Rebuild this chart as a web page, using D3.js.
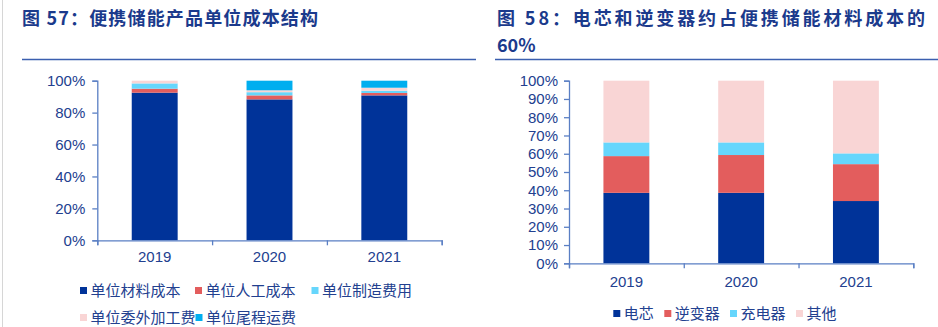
<!DOCTYPE html>
<html>
<head>
<meta charset="utf-8">
<script src="https://cdn.jsdelivr.net/npm/d3@7/dist/d3.min.js"></script>
<style>
  body { margin: 0; background: #fff; }
  text { font-family: "Liberation Sans", Arial, "Noto Sans CJK SC", sans-serif; }
  .cjk { font-family: "Noto Sans CJK SC", sans-serif; }
</style>
</head>
<body>
<svg id="mainsvg" width="938" height="327"></svg>
<script>
// data
var years = ["2019", "2020", "2021"];

// 图57 单位成本结构 (%)
var leftKeys = ["单位材料成本", "单位人工成本", "单位制造费用", "单位委外加工费", "单位尾程运费"];
var material = [92.5, 88.3, 90.8];
var labor = [2.5, 2.5, 1.5];
var manufacture = [3.3, 2.0, 1.4];
var outsourcing = [1.7, 1.2, 1.9];
var shipping = [0, 6.0, 4.4];
var leftTicks = [0, 20, 40, 60, 80, 100];

// 图58 材料成本构成 (%)
var rightKeys = ["电芯", "逆变器", "充电器", "其他"];
var cell = [38.6, 38.6, 34.1];
var inverter = [20.1, 20.7, 20.2];
var charger = [7.5, 6.9, 5.9];
var other = [33.8, 33.8, 39.8];
var rightTicks = [0, 10, 20, 30, 40, 50, 60, 70, 80, 90, 100];

var leftColors = ["#003399", "#e35d5d", "#66d6fc", "#f9d5d5", "#00aeef"];
var rightColors = ["#003399", "#e35d5d", "#66d6fc", "#f9d5d5"];

var axisColor = "#5a7fc4";
var textColor = "#22408f";
var titleColor = "#1b3a8c";

var svg = d3.select("#mainsvg");

// panel frame bits
svg.append("line")
  .attr("x1", 2.5).attr("x2", 2.5).attr("y1", 0).attr("y2", 327)
  .attr("stroke", "#d6d6d6").attr("stroke-width", 1);
svg.append("line")
  .attr("x1", 22).attr("x2", 476).attr("y1", 59.5).attr("y2", 59.5)
  .attr("stroke", "#3b5faf").attr("stroke-width", 1.5);
svg.append("line")
  .attr("x1", 495).attr("x2", 938).attr("y1", 59.5).attr("y2", 59.5)
  .attr("stroke", "#3b5faf").attr("stroke-width", 1.5);

// titles
svg.append("text").attr("class", "cjk")
  .attr("x", 22).attr("y", 24.5)
  .attr("font-size", 18).attr("font-weight", "bold").attr("fill", titleColor)
  .attr("textLength", 296).attr("lengthAdjust", "spacing")
  .text("图 57：便携储能产品单位成本结构");
svg.append("text").attr("class", "cjk")
  .attr("x", 497).attr("y", 24.5)
  .attr("font-size", 18).attr("font-weight", "bold").attr("fill", titleColor)
  .attr("textLength", 428).attr("lengthAdjust", "spacing")
  .text("图 58：电芯和逆变器约占便携储能材料成本的");
svg.append("text").attr("class", "cjk")
  .attr("x", 497).attr("y", 51.5)
  .attr("font-size", 18).attr("font-weight", "bold").attr("fill", titleColor)
  .text("60%");

/**
 * Draw one stacked column chart with its axes and legend
 * @param {Object} opt keys, series, colors, ticks and placement
 */
function drawStack(opt) {
  var g = svg.append("g");
  var rows = years.map(function (y, i) {
    var r = { year: y };
    opt.keys.forEach(function (k, j) { r[k] = opt.series[j][i]; });
    return r;
  });
  var stacked = d3.stack().keys(opt.keys)(rows);

  var x = d3.scaleBand().domain(years).range([opt.x0, opt.x1])
    .paddingInner(0.6).paddingOuter(0.3);
  var y = d3.scaleLinear().domain([0, 100]).range([opt.y0, opt.y1]);

  g.selectAll("g.layer")
    .data(stacked)
    .enter()
    .append("g")
    .attr("class", "layer")
    .attr("fill", function (d, i) { return opt.colors[i]; })
    .selectAll("rect")
    .data(function (d) { return d; })
    .enter()
    .append("rect")
    .attr("x", function (d) { return x(d.data.year); })
    .attr("width", x.bandwidth())
    .attr("y", function (d) { return y(d[1]); })
    .attr("height", function (d) { return Math.max(0, y(d[0]) - y(d[1])); });

  // y axis
  var yAxis = g.append("g")
    .attr("transform", "translate(" + opt.x0 + ",0)")
    .call(d3.axisLeft(y).tickValues(opt.ticks).tickSize(5).tickPadding(opt.tickPad)
      .tickFormat(function (d) { return d + "%"; }));
  yAxis.select(".domain").attr("stroke", axisColor).attr("stroke-width", 1.3);
  yAxis.selectAll(".tick line").attr("stroke", axisColor).attr("stroke-width", 1.3);
  yAxis.selectAll(".tick text")
    .attr("fill", textColor).attr("font-size", opt.fontSize)
    .style("font-family", "'Liberation Sans', Arial, sans-serif");

  // x axis: boundary ticks, labels centred on bars
  var xb = d3.scaleLinear().domain([0, years.length]).range([opt.x0, opt.x1]);
  var xAxis = g.append("g")
    .attr("transform", "translate(0," + opt.y0 + ")")
    .call(d3.axisBottom(xb).tickValues(d3.range(years.length + 1))
      .tickSize(5).tickSizeOuter(5).tickFormat(""));
  xAxis.select(".domain").attr("stroke", axisColor).attr("stroke-width", 1.3);
  xAxis.selectAll(".tick line").attr("stroke", axisColor).attr("stroke-width", 1.3);

  g.selectAll("text.xlab")
    .data(years)
    .enter()
    .append("text")
    .attr("class", "xlab")
    .attr("x", function (d) { return x(d) + x.bandwidth() / 2; })
    .attr("y", opt.xLabelY)
    .attr("text-anchor", "middle")
    .attr("fill", textColor)
    .attr("font-size", opt.fontSize)
    .text(function (d) { return d; });

  // legend
  var leg = g.selectAll("g.leg")
    .data(opt.legend)
    .enter()
    .append("g")
    .attr("class", "leg")
    .attr("transform", function (d) { return "translate(" + d.x + "," + d.y + ")"; });
  leg.append("rect")
    .attr("x", 0).attr("y", -3.5).attr("width", 7).attr("height", 7)
    .attr("fill", function (d) { return opt.colors[d.i]; });
  leg.append("text")
    .attr("class", "cjk")
    .attr("x", 10.5)
    .attr("y", 5.5)
    .attr("font-size", 15)
    .attr("fill", textColor)
    .style("font-family", "'Noto Sans CJK SC', sans-serif")
    .text(function (d) { return opt.keys[d.i]; });
}

drawStack({
  keys: leftKeys,
  series: [material, labor, manufacture, outsourcing, shipping],
  colors: leftColors,
  ticks: leftTicks,
  x0: 97.3, x1: 441.7, y0: 240.3, y1: 80.7,
  tickPad: 7, fontSize: 15, xLabelY: 261.5,
  legend: [
    { i: 0, x: 80, y: 290.5 },
    { i: 1, x: 195, y: 290.5 },
    { i: 2, x: 311.5, y: 290.5 },
    { i: 3, x: 80, y: 317.5 },
    { i: 4, x: 195.5, y: 317.5 }
  ]
});

drawStack({
  keys: rightKeys,
  series: [cell, inverter, charger, other],
  colors: rightColors,
  ticks: rightTicks,
  x0: 569, x1: 913.3, y0: 263.3, y1: 80.7,
  tickPad: 6, fontSize: 15, xLabelY: 287,
  legend: [
    { i: 0, x: 613.3, y: 313.5 },
    { i: 1, x: 664.3, y: 313.5 },
    { i: 2, x: 730, y: 313.5 },
    { i: 3, x: 796, y: 313.5 }
  ]
});
</script>
</body>
</html>
